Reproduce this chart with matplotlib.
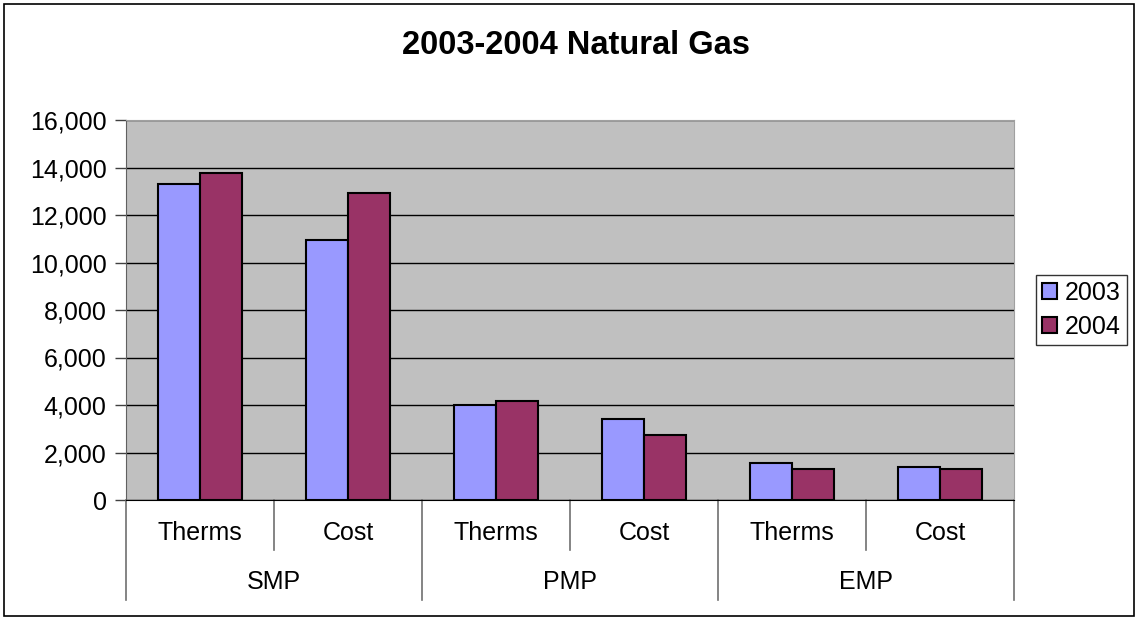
import numpy as np
import matplotlib.pyplot as plt
from matplotlib.patches import Rectangle

plt.rcParams['font.family'] = ['Liberation Sans', 'DejaVu Sans']

groups = ["SMP", "PMP", "EMP"]
measures = ["Therms", "Cost"]
vals_2003 = [13300, 10960, 4020, 3400, 1540, 1370]
vals_2004 = [13770, 12930, 4160, 2720, 1300, 1300]

W, H = 1138, 620
fs = 18
fig = plt.figure(figsize=(W / 100, H / 100), dpi=100)
fig.patches.append(Rectangle((4 / W, 4 / H), 1 - 8 / W, 1 - 8 / H, transform=fig.transFigure,
                             fill=False, edgecolor="black", linewidth=1.2))

ax = fig.add_axes([126 / W, 120 / H, 888 / W, 380 / H])
ax.set_facecolor("#C0C0C0")

x = np.arange(len(vals_2003))
bw = 0.285
ax.bar(x - bw / 2, vals_2003, bw, color="#9999FF", edgecolor="black", linewidth=1.5, label="2003", zorder=3)
ax.bar(x + bw / 2, vals_2004, bw, color="#993366", edgecolor="black", linewidth=1.5, label="2004", zorder=3)

ax.set_xlim(-0.5, 5.5)
ax.set_ylim(0, 16000)
ax.set_yticks(np.arange(0, 16001, 2000))
ax.set_yticklabels([f"{v:,}" for v in range(0, 16001, 2000)], fontsize=fs)
ax.yaxis.grid(True, color="black", linewidth=1.0, zorder=1)
ax.set_axisbelow(True)
ax.tick_params(axis="y", length=8, width=1.0, color="#404040", pad=6)
ax.set_xticks([])

for s in ["top", "right"]:
    ax.spines[s].set_color("#A0A0A0")
ax.spines["left"].set_color("#606060")
ax.spines["bottom"].set_color("black")

# category axis separators and labels
px = 1 / 380
trans = ax.get_xaxis_transform()
for b in [0.5, 2.5, 4.5]:
    ax.plot([b, b], [0, -50 * px], transform=trans, color="#707070", linewidth=1.2, clip_on=False)
for b in [-0.5, 1.5, 3.5, 5.5]:
    ax.plot([b, b], [0, -100 * px], transform=trans, color="#707070", linewidth=1.2, clip_on=False)
for i in x:
    ax.text(i, -33 * px, measures[i % 2], transform=trans, ha="center", va="center", fontsize=fs)
for g, name in enumerate(groups):
    ax.text(2 * g + 0.5, -82 * px, name, transform=trans, ha="center", va="center", fontsize=fs)

fig.text(576 / W, 1 - 45 / H, "2003-2004 Natural Gas", ha="center", va="center",
         fontsize=23.5, fontweight="bold")

leg = ax.legend(loc="center left", bbox_to_anchor=(1036 / W, 1 - 310 / H), bbox_transform=fig.transFigure,
                fontsize=fs, frameon=True, fancybox=False, edgecolor="black",
                handlelength=0.6, handleheight=0.6, handletextpad=0.3, borderpad=0.25,
                labelspacing=0.4, borderaxespad=0)
leg.get_frame().set_linewidth(1.0)

fig.savefig("out.png", dpi=100)
